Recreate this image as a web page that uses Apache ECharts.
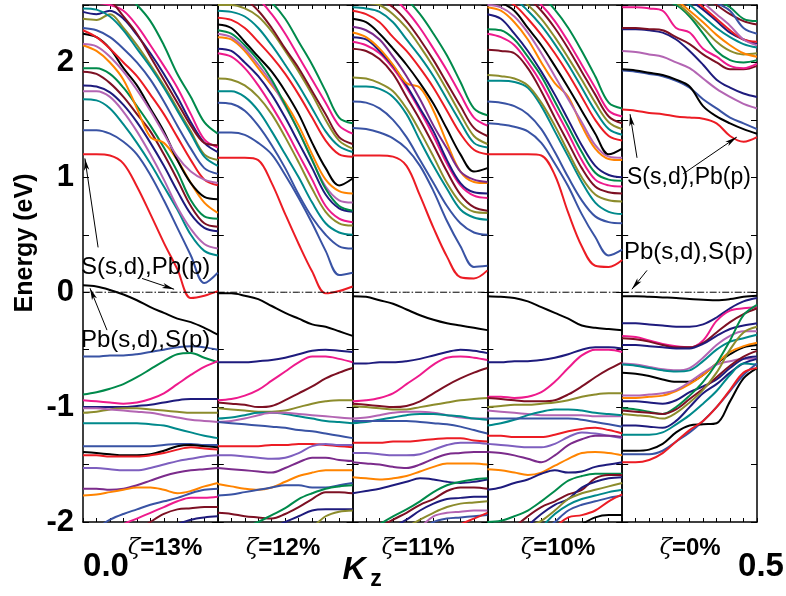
<!DOCTYPE html>
<html><head><meta charset="utf-8">
<script src="https://cdn.jsdelivr.net/npm/echarts@6/dist/echarts.min.js"></script>
<style>html,body{margin:0;padding:0;background:#fff}#c{width:786px;height:596px}</style>
</head><body><div id="c"></div><script>
// k_z sampling points (same for every band)
const K = [0,0.05,0.1,0.15,0.2,0.25,0.3,0.35,0.4,0.45,0.5];
const panelNames = ['=13%','=12%','=11%','=10%','=0%'];
const yTicks = [-2,-1,0,1,2];

// ---------- panel 1 (zeta = 13%) ----------
const p1Cond = [
 [1.20,1.20,1.19,1.12,0.92,0.68,0.43,0.20,-0.05,-0.03,0.01],
 [1.41,1.41,1.38,1.31,1.2,1.02,0.8,0.56,0.32,0.08,0.17],
 [1.68,1.67,1.6,1.46,1.3,1.12,0.92,0.72,0.5,0.36,0.32],
 [1.75,1.75,1.7,1.57,1.4,1.2,0.98,0.74,0.55,0.42,0.38],
 [1.80,1.79,1.74,1.63,1.48,1.3,1.1,0.88,0.68,0.56,0.53],
 [1.92,1.9,1.82,1.7,1.55,1.4,1.2,0.98,0.75,0.6,0.57],
 [1.95,1.95,1.9,1.78,1.62,1.45,1.26,1.05,0.8,0.66,0.64],
 [2.15,2.1,2.0,1.85,1.6,1.35,1.3,1.15,0.95,0.78,0.69],
 [2.25,2.22,2.12,1.95,1.8,1.6,1.4,1.15,0.95,0.83,0.81],
 [2.28,2.22,2.12,2.0,1.88,1.72,1.55,1.35,1.15,0.98,0.93],
 [2.3,2.28,2.22,2.12,2.0,1.85,1.66,1.45,1.25,1.08,1.03],
 [2.38,2.37,2.42,2.3,2.15,1.98,1.8,1.6,1.4,1.2,1.15],
 [2.44,2.42,2.45,2.38,2.24,2.08,1.9,1.7,1.48,1.3,1.22],
 [2.55,2.52,2.5,2.45,2.32,2.15,1.97,1.78,1.55,1.33,1.26],
 [2.6,2.58,2.54,2.4,2.25,2.05,1.85,1.65,1.45,1.3,1.28],
 [2.7,2.7,2.68,2.6,2.5,2.36,2.15,1.9,1.7,1.48,1.38],
 [2.16,2.14,2.05,1.92,1.76,1.58,1.38,1.18,1.05,0.98,0.95],
 [2.47,2.46,2.4,2.28,2.12,1.96,1.78,1.58,1.38,1.18,1.1]
];
const p1Val = [
 [0.06,0.05,0.02,-0.02,-0.07,-0.13,-0.18,-0.23,-0.26,-0.31,-0.37],
 [-0.56,-0.56,-0.55,-0.55,-0.54,-0.52,-0.5,-0.48,-0.47,-0.48,-0.5],
 [-0.89,-0.87,-0.84,-0.8,-0.74,-0.67,-0.6,-0.54,-0.53,-0.57,-0.61],
 [-0.94,-0.95,-0.96,-0.97,-0.96,-0.93,-0.88,-0.8,-0.72,-0.65,-0.6],
 [-1.0,-1.0,-1.0,-1.0,-0.99,-0.98,-0.96,-0.94,-0.93,-0.93,-0.93],
 [-1.05,-1.04,-1.02,-1.01,-1.01,-1.02,-1.03,-1.04,-1.05,-1.05,-1.05],
 [-1.01,-1.01,-1.02,-1.03,-1.04,-1.05,-1.07,-1.09,-1.11,-1.12,-1.13],
 [-1.14,-1.14,-1.14,-1.14,-1.14,-1.15,-1.16,-1.19,-1.22,-1.25,-1.27],
 [-1.34,-1.34,-1.34,-1.34,-1.34,-1.34,-1.33,-1.32,-1.32,-1.33,-1.33],
 [-1.39,-1.4,-1.41,-1.42,-1.42,-1.41,-1.38,-1.34,-1.33,-1.34,-1.35],
 [-1.42,-1.42,-1.43,-1.43,-1.43,-1.42,-1.4,-1.37,-1.35,-1.36,-1.37],
 [-1.53,-1.53,-1.54,-1.55,-1.55,-1.53,-1.5,-1.47,-1.45,-1.43,-1.42],
 [-1.71,-1.71,-1.72,-1.71,-1.68,-1.64,-1.6,-1.57,-1.55,-1.54,-1.53],
 [-1.77,-1.76,-1.74,-1.72,-1.7,-1.7,-1.72,-1.75,-1.73,-1.69,-1.66],
 [-2.1,-2.05,-1.98,-1.93,-1.89,-1.85,-1.82,-1.79,-1.75,-1.72,-1.71],
 [-2.3,-2.2,-2.1,-2.02,-1.97,-1.92,-1.87,-1.82,-1.79,-1.79,-1.78],
 [-2.6,-2.5,-2.4,-2.2,-2.08,-2.0,-1.93,-1.89,-1.88,-1.87,-1.87],
 [-2.9,-2.8,-2.7,-2.5,-2.3,-2.15,-2.07,-2.02,-1.98,-1.96,-1.95]
];
// ---------- panel 2 (zeta = 12%) ----------
const p2Cond = [
 [1.17,1.17,1.17,1.15,0.95,0.68,0.42,0.18,-0.01,0.01,0.05],
 [1.39,1.39,1.37,1.3,1.2,1.02,0.82,0.6,0.36,0.15,0.17],
 [1.65,1.64,1.58,1.45,1.28,1.08,0.85,0.65,0.5,0.4,0.38],
 [1.75,1.75,1.7,1.58,1.4,1.2,1.0,0.78,0.6,0.52,0.5],
 [1.86,1.85,1.8,1.7,1.55,1.35,1.13,0.9,0.7,0.6,0.58],
 [2.08,2.05,1.95,1.8,1.62,1.42,1.2,0.98,0.75,0.64,0.61],
 [2.12,2.1,2.0,1.88,1.72,1.52,1.3,1.08,0.85,0.73,0.7],
 [2.22,2.2,2.1,1.95,1.8,1.65,1.45,1.2,0.98,0.88,0.86],
 [2.25,2.22,2.12,1.98,1.82,1.62,1.4,1.15,0.92,0.8,0.78],
 [2.33,2.3,2.18,2.05,1.92,1.75,1.55,1.3,1.08,0.93,0.99],
 [2.39,2.37,2.3,2.18,2.05,1.9,1.72,1.52,1.32,1.2,1.18],
 [2.45,2.44,2.4,2.3,2.15,1.98,1.8,1.6,1.4,1.27,1.22],
 [2.5,2.5,2.47,2.4,2.27,2.1,1.92,1.72,1.5,1.32,1.25],
 [2.6,2.57,2.55,2.45,2.3,2.12,1.95,1.75,1.55,1.35,1.29],
 [2.65,2.63,2.6,2.55,2.42,2.25,2.05,1.85,1.65,1.45,1.38],
 [2.7,2.7,2.66,2.6,2.52,2.38,2.18,1.98,1.75,1.52,1.47],
 [2.28,2.25,2.15,2.02,1.85,1.63,1.4,1.15,0.9,0.75,0.71]
];
const p2Val = [
 [-0.01,-0.01,-0.03,-0.06,-0.12,-0.18,-0.23,-0.28,-0.3,-0.34,-0.38],
 [-0.61,-0.61,-0.61,-0.6,-0.59,-0.57,-0.54,-0.51,-0.5,-0.51,-0.52],
 [-0.94,-0.93,-0.9,-0.85,-0.77,-0.69,-0.61,-0.56,-0.56,-0.58,-0.61],
 [-0.96,-0.97,-0.98,-1.0,-0.99,-0.94,-0.88,-0.82,-0.75,-0.7,-0.66],
 [-1.01,-1.02,-1.03,-1.04,-1.04,-1.03,-1.0,-0.97,-0.95,-0.94,-0.94],
 [-1.1,-1.09,-1.07,-1.05,-1.05,-1.06,-1.08,-1.1,-1.12,-1.13,-1.14],
 [-1.13,-1.12,-1.1,-1.07,-1.05,-1.05,-1.06,-1.07,-1.08,-1.09,-1.1],
 [-1.13,-1.14,-1.15,-1.16,-1.17,-1.18,-1.2,-1.21,-1.23,-1.25,-1.27],
 [-1.34,-1.34,-1.34,-1.34,-1.33,-1.33,-1.32,-1.32,-1.33,-1.34,-1.35],
 [-1.42,-1.42,-1.43,-1.44,-1.45,-1.44,-1.4,-1.34,-1.32,-1.33,-1.33],
 [-1.53,-1.54,-1.55,-1.56,-1.57,-1.53,-1.48,-1.44,-1.44,-1.46,-1.47],
 [-1.67,-1.69,-1.71,-1.72,-1.7,-1.65,-1.6,-1.57,-1.55,-1.55,-1.55],
 [-1.77,-1.76,-1.74,-1.72,-1.7,-1.68,-1.68,-1.7,-1.7,-1.68,-1.66],
 [-1.92,-1.93,-1.95,-1.96,-1.97,-1.93,-1.87,-1.8,-1.74,-1.74,-1.75],
 [-2.2,-2.15,-2.05,-2.0,-1.94,-1.88,-1.8,-1.75,-1.71,-1.69,-1.68],
 [-2.3,-2.25,-2.15,-2.1,-2.05,-2.0,-1.95,-1.9,-1.89,-1.89,-1.89],
 [-2.8,-2.7,-2.6,-2.5,-2.4,-2.3,-2.15,-2.05,-1.95,-1.91,-1.9]
];
// ---------- panel 3 (zeta = 11%) ----------
const p3Cond = [
 [1.19,1.19,1.19,1.18,1.1,0.84,0.56,0.31,0.13,0.12,0.19],
 [1.43,1.42,1.39,1.34,1.25,1.1,0.88,0.62,0.4,0.22,0.23],
 [1.66,1.65,1.6,1.5,1.35,1.15,0.95,0.75,0.6,0.52,0.5],
 [1.79,1.79,1.77,1.7,1.55,1.32,1.1,0.9,0.72,0.65,0.63],
 [1.87,1.86,1.82,1.75,1.6,1.4,1.18,0.95,0.78,0.7,0.69],
 [2.12,2.1,2.03,1.9,1.7,1.5,1.28,1.05,0.85,0.74,0.71],
 [2.18,2.15,2.08,1.95,1.78,1.58,1.36,1.12,0.93,0.84,0.82],
 [2.22,2.2,2.1,1.97,1.8,1.6,1.4,1.15,0.95,0.87,0.86],
 [2.26,2.22,2.12,1.98,1.82,1.78,1.58,1.3,1.05,0.96,0.95],
 [2.31,2.28,2.2,2.05,1.88,1.68,1.45,1.25,1.05,0.98,0.96],
 [2.38,2.35,2.25,2.12,1.98,1.82,1.64,1.42,1.2,1.05,1.08],
 [2.45,2.42,2.35,2.22,2.1,1.95,1.78,1.58,1.38,1.24,1.2],
 [2.48,2.47,2.44,2.35,2.2,2.05,1.88,1.68,1.48,1.3,1.26],
 [2.55,2.52,2.5,2.42,2.3,2.14,1.96,1.76,1.55,1.36,1.29],
 [2.62,2.6,2.55,2.48,2.36,2.2,2.02,1.82,1.62,1.43,1.36],
 [2.65,2.64,2.62,2.56,2.45,2.3,2.12,1.93,1.72,1.52,1.45],
 [2.7,2.7,2.68,2.62,2.55,2.42,2.25,2.06,1.83,1.6,1.54]
];
const p3Val = [
 [-0.035,-0.04,-0.07,-0.1,-0.15,-0.2,-0.24,-0.27,-0.29,-0.31,-0.33],
 [-0.62,-0.62,-0.61,-0.61,-0.6,-0.58,-0.55,-0.52,-0.5,-0.51,-0.53],
 [-0.95,-0.94,-0.92,-0.88,-0.8,-0.72,-0.63,-0.57,-0.56,-0.57,-0.59],
 [-0.97,-0.98,-0.99,-1.0,-0.99,-0.95,-0.88,-0.81,-0.75,-0.7,-0.66],
 [-0.99,-1.0,-1.01,-1.02,-1.02,-1.0,-0.98,-0.96,-0.94,-0.93,-0.92],
 [-1.1,-1.09,-1.07,-1.05,-1.04,-1.04,-1.05,-1.07,-1.09,-1.1,-1.1],
 [-1.14,-1.13,-1.11,-1.09,-1.07,-1.06,-1.06,-1.07,-1.08,-1.1,-1.11],
 [-1.12,-1.12,-1.12,-1.12,-1.12,-1.13,-1.14,-1.15,-1.17,-1.2,-1.23],
 [-1.31,-1.31,-1.31,-1.3,-1.3,-1.29,-1.28,-1.27,-1.27,-1.29,-1.3],
 [-1.4,-1.4,-1.41,-1.42,-1.42,-1.41,-1.37,-1.33,-1.31,-1.31,-1.32],
 [-1.48,-1.49,-1.5,-1.52,-1.53,-1.5,-1.45,-1.41,-1.4,-1.39,-1.39],
 [-1.61,-1.62,-1.63,-1.62,-1.6,-1.56,-1.52,-1.49,-1.49,-1.49,-1.5],
 [-1.75,-1.73,-1.71,-1.68,-1.65,-1.62,-1.63,-1.65,-1.66,-1.65,-1.63],
 [-2.3,-2.1,-2.02,-1.95,-1.89,-1.82,-1.74,-1.68,-1.65,-1.63,-1.62],
 [-2.4,-2.15,-2.05,-1.98,-1.92,-1.85,-1.8,-1.73,-1.7,-1.7,-1.71],
 [-2.6,-2.4,-2.2,-2.05,-1.98,-1.9,-1.84,-1.8,-1.79,-1.78,-1.78],
 [-2.8,-2.6,-2.4,-2.2,-2.05,-1.98,-1.92,-1.87,-1.84,-1.83,-1.82],
 [-2.9,-2.7,-2.5,-2.3,-2.15,-2.05,-1.95,-1.92,-1.91,-1.9,-1.9],
 [-3.0,-2.8,-2.6,-2.4,-2.2,-2.08,-2.0,-1.97,-1.96,-1.95,-1.94],
 [-3.2,-3.0,-2.8,-2.6,-2.4,-2.25,-2.15,-2.08,-2.02,-1.97,-1.92]
];
// ---------- panel 4 (zeta = 10%) ----------
const p4Cond = [
 [1.2,1.2,1.2,1.2,1.19,1.02,0.69,0.4,0.23,0.22,0.28],
 [1.47,1.46,1.44,1.4,1.3,1.12,0.92,0.68,0.48,0.32,0.37],
 [1.66,1.65,1.62,1.55,1.42,1.22,1.0,0.8,0.66,0.61,0.6],
 [1.84,1.84,1.83,1.78,1.62,1.4,1.18,0.96,0.78,0.7,0.68],
 [1.89,1.88,1.86,1.8,1.65,1.45,1.22,1.0,0.85,0.8,0.79],
 [2.11,2.1,2.08,1.95,1.75,1.52,1.3,1.08,0.92,0.87,0.86],
 [2.25,2.22,2.15,2.0,1.82,1.6,1.38,1.15,0.98,0.93,0.92],
 [2.29,2.28,2.2,2.05,1.88,1.66,1.44,1.22,1.04,0.98,0.97],
 [2.42,2.38,2.25,2.1,1.92,1.72,1.5,1.28,1.1,1.02,1.0],
 [2.48,2.45,2.35,2.2,2.0,1.82,1.7,1.45,1.25,1.16,1.15],
 [2.5,2.48,2.4,2.26,2.08,1.88,1.68,1.48,1.28,1.18,1.17],
 [2.55,2.52,2.45,2.3,2.15,1.97,1.78,1.58,1.38,1.2,1.25],
 [2.58,2.56,2.5,2.38,2.24,2.08,1.9,1.7,1.5,1.36,1.32],
 [2.6,2.58,2.55,2.45,2.32,2.16,1.98,1.78,1.58,1.42,1.37],
 [2.62,2.6,2.58,2.5,2.38,2.22,2.04,1.85,1.65,1.48,1.42],
 [2.65,2.64,2.62,2.56,2.45,2.3,2.12,1.92,1.72,1.53,1.47],
 [2.68,2.67,2.65,2.6,2.5,2.36,2.18,1.98,1.78,1.58,1.53],
 [2.72,2.72,2.7,2.66,2.58,2.46,2.3,2.1,1.88,1.65,1.6]
];
const p4Val = [
 [-0.035,-0.04,-0.05,-0.08,-0.13,-0.18,-0.23,-0.29,-0.31,-0.32,-0.33],
 [-0.61,-0.61,-0.6,-0.6,-0.59,-0.57,-0.54,-0.5,-0.48,-0.48,-0.49],
 [-0.91,-0.91,-0.92,-0.91,-0.87,-0.78,-0.66,-0.55,-0.5,-0.5,-0.52],
 [-0.92,-0.93,-0.94,-0.95,-0.95,-0.94,-0.89,-0.82,-0.74,-0.67,-0.61],
 [-1.0,-0.99,-0.98,-0.98,-0.97,-0.96,-0.94,-0.91,-0.89,-0.88,-0.88],
 [-1.03,-1.04,-1.05,-1.06,-1.07,-1.07,-1.07,-1.07,-1.08,-1.08,-1.08],
 [-1.16,-1.14,-1.11,-1.07,-1.04,-1.02,-1.02,-1.03,-1.05,-1.06,-1.07],
 [-1.1,-1.1,-1.1,-1.1,-1.1,-1.1,-1.1,-1.11,-1.13,-1.15,-1.17],
 [-1.25,-1.25,-1.26,-1.26,-1.26,-1.24,-1.21,-1.19,-1.18,-1.2,-1.23],
 [-1.32,-1.33,-1.34,-1.35,-1.35,-1.32,-1.26,-1.22,-1.23,-1.25,-1.27],
 [-1.39,-1.4,-1.42,-1.45,-1.48,-1.42,-1.33,-1.28,-1.25,-1.25,-1.26],
 [-1.54,-1.55,-1.57,-1.59,-1.57,-1.51,-1.45,-1.4,-1.39,-1.4,-1.42],
 [-1.72,-1.7,-1.66,-1.63,-1.58,-1.55,-1.57,-1.56,-1.52,-1.5,-1.48],
 [-2.0,-1.99,-1.95,-1.9,-1.82,-1.73,-1.64,-1.6,-1.58,-1.58,-1.58],
 [-2.3,-2.2,-2.05,-1.95,-1.87,-1.82,-1.76,-1.72,-1.62,-1.59,-1.59],
 [-2.3,-2.2,-2.1,-2.03,-1.93,-1.85,-1.8,-1.7,-1.65,-1.62,-1.61],
 [-2.6,-2.4,-2.2,-2.05,-1.99,-1.9,-1.8,-1.75,-1.72,-1.69,-1.66],
 [-2.8,-2.6,-2.4,-2.2,-2.05,-1.93,-1.85,-1.8,-1.77,-1.74,-1.72],
 [-2.9,-2.7,-2.5,-2.3,-2.1,-2.0,-1.9,-1.85,-1.82,-1.79,-1.77],
 [-3.0,-2.8,-2.6,-2.4,-2.2,-2.05,-1.96,-1.94,-1.9,-1.82,-1.76],
 [-3.2,-3.0,-2.8,-2.6,-2.4,-2.2,-2.1,-2.02,-1.96,-1.94,-1.94]
];
// ---------- panel 5 (zeta = 0%) ----------
const p5Cond = [
 [1.59,1.58,1.56,1.55,1.53,1.52,1.51,1.47,1.36,1.31,1.35],
 [1.93,1.92,1.9,1.88,1.84,1.78,1.68,1.6,1.52,1.47,1.42],
 [1.94,1.93,1.91,1.89,1.85,1.79,1.62,1.53,1.47,1.42,1.38],
 [2.1,2.09,2.07,2.05,2.0,1.95,1.86,1.77,1.7,1.64,1.6],
 [2.29,2.29,2.28,2.26,2.2,2.1,1.98,1.85,1.78,1.73,1.7],
 [2.3,2.3,2.29,2.28,2.22,2.16,2.07,2.0,1.94,1.94,1.97],
 [2.48,2.48,2.47,2.45,2.3,2.26,2.12,2.05,1.97,1.95,1.99],
 [2.55,2.55,2.55,2.54,2.5,2.4,2.25,2.1,2.02,2.0,2.02],
 [2.6,2.6,2.6,2.58,2.52,2.42,2.3,2.18,2.1,2.07,2.08],
 [2.62,2.62,2.6,2.58,2.54,2.45,2.35,2.24,2.15,2.08,2.05],
 [2.65,2.65,2.63,2.6,2.56,2.5,2.4,2.3,2.22,2.16,2.13],
 [2.7,2.7,2.68,2.65,2.6,2.54,2.46,2.36,2.26,2.2,2.16],
 [2.72,2.72,2.7,2.68,2.63,2.57,2.48,2.38,2.28,2.2,2.18],
 [2.75,2.75,2.73,2.7,2.66,2.6,2.52,2.42,2.32,2.2,2.15],
 [2.8,2.8,2.78,2.75,2.7,2.65,2.58,2.5,2.42,2.36,2.33],
 [2.85,2.85,2.83,2.8,2.75,2.7,2.62,2.55,2.48,2.38,2.36],
 [2.82,2.82,2.8,2.78,2.73,2.68,2.6,2.52,2.45,2.3,2.25]
];
const p5Val = [
 [-0.035,-0.035,-0.04,-0.045,-0.05,-0.06,-0.065,-0.07,-0.06,-0.04,-0.03],
 [-0.27,-0.27,-0.28,-0.29,-0.3,-0.3,-0.28,-0.22,-0.14,-0.08,-0.05],
 [-0.38,-0.39,-0.42,-0.45,-0.47,-0.48,-0.42,-0.25,-0.16,-0.14,-0.13],
 [-0.4,-0.41,-0.43,-0.46,-0.48,-0.48,-0.44,-0.35,-0.26,-0.19,-0.14],
 [-0.46,-0.46,-0.47,-0.48,-0.49,-0.49,-0.45,-0.38,-0.32,-0.29,-0.27],
 [-0.62,-0.63,-0.65,-0.67,-0.68,-0.66,-0.57,-0.46,-0.38,-0.34,-0.34],
 [-0.63,-0.64,-0.66,-0.68,-0.69,-0.68,-0.6,-0.5,-0.43,-0.4,-0.37],
 [-0.7,-0.71,-0.73,-0.76,-0.78,-0.78,-0.72,-0.62,-0.54,-0.48,-0.46],
 [-0.92,-0.92,-0.91,-0.9,-0.86,-0.8,-0.72,-0.62,-0.52,-0.47,-0.44],
 [-0.9,-0.9,-0.89,-0.88,-0.85,-0.78,-0.7,-0.63,-0.6,-0.58,-0.58],
 [-0.95,-0.95,-0.96,-0.97,-0.94,-0.87,-0.82,-0.76,-0.66,-0.58,-0.56],
 [-1.01,-1.02,-1.04,-1.06,-1.0,-0.9,-0.78,-0.62,-0.42,-0.2,-0.11],
 [-1.03,-1.04,-1.05,-1.06,-1.02,-0.93,-0.84,-0.74,-0.64,-0.56,-0.51],
 [-1.06,-1.07,-1.08,-1.1,-1.05,-0.96,-0.85,-0.7,-0.5,-0.35,-0.3],
 [-1.16,-1.16,-1.17,-1.18,-1.12,-1.0,-0.88,-0.8,-0.7,-0.62,-0.58],
 [-1.24,-1.24,-1.24,-1.22,-1.15,-1.07,-0.97,-0.86,-0.72,-0.62,-0.63],
 [-1.41,-1.41,-1.41,-1.38,-1.3,-1.22,-1.12,-1.0,-0.86,-0.72,-0.62],
 [-1.38,-1.38,-1.37,-1.32,-1.22,-1.16,-1.15,-1.14,-0.95,-0.75,-0.66],
 [-1.48,-1.48,-1.46,-1.4,-1.3,-1.2,-1.12,-1.0,-0.85,-0.7,-0.66]
];

// annotation arrows, [from, to] in (k_z, E) of their panel
const arrows1 = [[[0.056,0.39],[0.007,1.165]], [[0.219,0.12],[0.338,0.026]], [[0.089,-0.33],[0.026,0.035]]];
const arrows5 = [[[0.055,1.17],[0.029,1.55]], [[0.226,1.03],[0.425,1.35]], [[0.092,0.19],[0.036,0.026]]];

// ---------- styles ----------
const COL = {R:'#ec1c24',B:'#3953a4',N:'#1e1b7d',T:'#00898b',V:'#b365b3',O:'#8c8c2c',W:'#7d1023',
  P:'#ee1a8c',G:'#008a4b',Or:'#ff8400',Pu:'#7b2b8b',M:'#7e5fbf',K:'#000000'};
const condC = [
 ['R','B','T','V','N','W','G','Or','K','R','B','O','N','P','W','G','V','T'],
 ['R','B','B','T','O','P','N','Or','V','K','R','T','O','W','P','G','G'],
 ['R','B','B','T','O','W','P','N','Or','Pu','K','R','T','O','W','P','G'],
 ['R','B','B','T','O','W','P','G','N','Or','V','K','R','T','O','W','P','G'],
 ['R','B','K','V','N','W','P','G','O','Or','T','N','R','V','W','G','B']
];
const valC = [
 ['K','B','G','P','N','O','V','T','B','K','R','M','Pu','Or','B','P','W','N'],
 ['K','N','P','W','O','T','V','B','R','M','Pu','Or','B','W','G','N','O'],
 ['K','N','P','W','O','V','T','B','R','M','Pu','Or','N','G','W','N','O','V','B','R'],
 ['K','N','P','W','O','V','T','B','R','M','Pu','Or','N','G','W','N','O','T','B','R','K'],
 ['K','N','P','W','N','V','T','K','Or','V','N','G','W','O','N','T','B','K','R']
];
const conds = [p1Cond,p2Cond,p3Cond,p4Cond,p5Cond];
const vals = [p1Val,p2Val,p3Val,p4Val,p5Val];

const L0 = 83, PW = 134.8, TOP = 5, H = 517;
const grids=[], xAxes=[], yAxes=[], series=[];
const axLine = {show:true,onZero:false,lineStyle:{color:'#000',width:1.5}};
for (let i=0;i<5;i++){
  grids.push({left:L0+i*PW, top:TOP, width:PW, height:H});
  ['bottom','top'].forEach(pos=>xAxes.push({gridIndex:i,type:'value',min:0,max:0.5,interval:0.05,position:pos,
    axisLine:axLine,axisTick:{show:true,inside:true,length:4,lineStyle:{color:'#000',width:1}},
    axisLabel:{show:false},splitLine:{show:false}}));
  ['left','right'].forEach((pos,j)=>yAxes.push({gridIndex:i,type:'value',min:-2,max:2.5,interval:0.5,position:pos,
    axisLine:axLine,axisTick:{show:true,inside:true,length:6,lineStyle:{color:'#000',width:1}},
    axisLabel:(i===0&&j===0)?{show:true,margin:9,color:'#000',fontSize:31,fontWeight:'bold',
      fontFamily:'Liberation Sans, Arial, sans-serif',
      formatter:v=>yTicks.includes(v)?String(v):''}:{show:false},
    splitLine:{show:false}}));
  const add = (b,c)=>series.push({type:'line',xAxisIndex:2*i,yAxisIndex:2*i,data:K.map((k,j)=>[k,b[j]]),
    smooth:0.35,showSymbol:false,symbol:'none',silent:true,animation:false,clip:true,
    lineStyle:{width:2,color:COL[c]},itemStyle:{color:COL[c]}});
  vals[i].forEach((b,j)=>add(b,valC[i][j]));
  conds[i].forEach((b,j)=>add(b,condC[i][j]));
  // zero-energy reference line + annotation arrows
  const arr = i===0?arrows1:(i===4?arrows5:[]);
  series.push({type:'line',xAxisIndex:2*i,yAxisIndex:2*i,data:K.map(k=>[k,0]),showSymbol:false,symbol:'none',
    silent:true,animation:false,z:5,lineStyle:{width:1,color:'#000',type:[7,2,1.5,2]},
    markLine:{silent:true,animation:false,symbol:['none','arrow'],symbolSize:[4,12],label:{show:false},
      lineStyle:{color:'#000',width:1,type:'solid'},
      data:arr.map(a=>[{coord:a[0]},{coord:a[1]}])}});
}

const txt = (text,x,y,o)=>Object.assign({type:'text',z:100,silent:true,style:Object.assign({text,x,y,fill:'#000',
  fontFamily:'Liberation Sans, Arial, sans-serif',align:'left',verticalAlign:'middle'},o)});
const zCenters = [165,283,418,558,690];
const graphic = [
  txt('Energy (eV)',0,0,{fontSize:25,fontWeight:'bold',align:'center'}),
  txt('0.0',106,567,{fontSize:33,fontWeight:'bold',align:'center'}),
  txt('0.5',761,567,{fontSize:33,fontWeight:'bold',align:'center'}),
  txt('K',354,570,{fontSize:32,fontWeight:'bold',fontStyle:'italic',align:'center'}),
  txt('z',376,580,{fontSize:23,fontWeight:'bold',align:'center'}),
  txt('S(s,d),Pb(p)',81,267,{fontSize:24}),
  txt('Pb(s,d),S(p)',81,340,{fontSize:24}),
  txt('S(s,d),Pb(p)',627,178,{fontSize:23}),
  txt('Pb(s,d),S(p)',624,252,{fontSize:24})
];
graphic[0].x = 25; graphic[0].y = 243; graphic[0].rotation = Math.PI/2;
panelNames.forEach((n,i)=>graphic.push({type:'text',z:100,silent:true,style:{text:'{g|ζ}{t|'+n+'}',
  x:zCenters[i],y:548,align:'center',verticalAlign:'middle',fill:'#000',
  rich:{g:{fontFamily:'DejaVu Serif, serif',fontStyle:'italic',fontSize:23,fill:'#000'},
        t:{fontFamily:'Liberation Sans, Arial, sans-serif',fontWeight:'bold',fontSize:24,fill:'#000'}}}}));

const chart = echarts.init(document.getElementById('c'),null,{renderer:'canvas'});
chart.setOption({animation:false,backgroundColor:'#fff',grid:grids,xAxis:xAxes,yAxis:yAxes,series,graphic});
</script></body></html>
